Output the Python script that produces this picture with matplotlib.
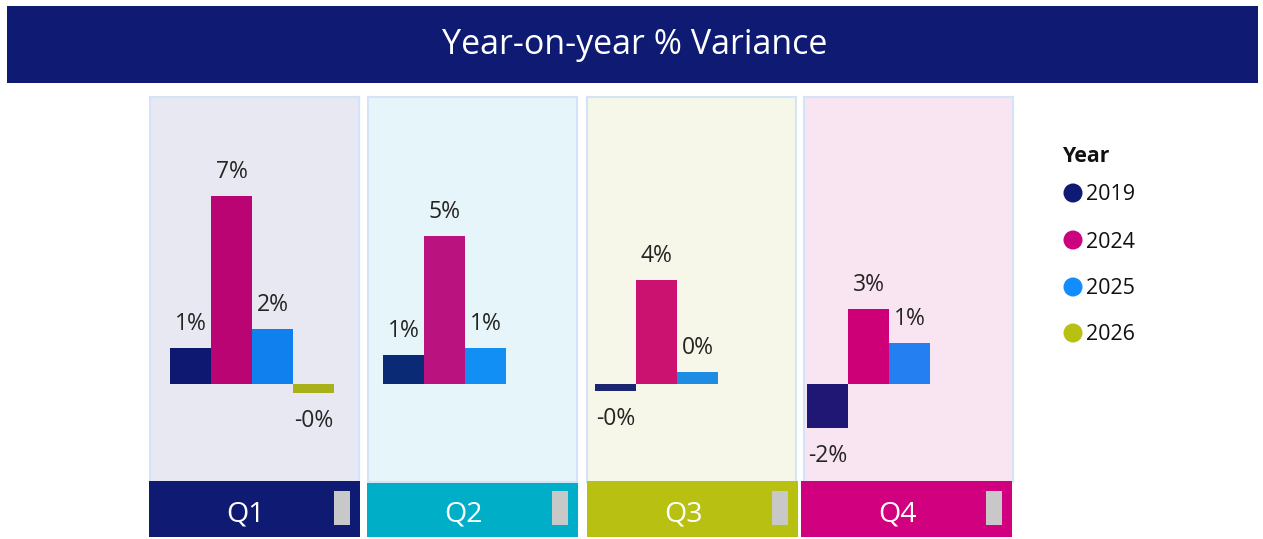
import matplotlib
matplotlib.use("Agg")
import matplotlib.pyplot as plt
from matplotlib.patches import Rectangle
import numpy as np

plt.rcParams['font.family'] = ['Open Sans', 'DejaVu Sans']

# ---------------- data ----------------
quarters = ["Q1", "Q2", "Q3", "Q4"]
years = ["2019", "2024", "2025", "2026"]
q1_values = [1.30, 6.71, 1.96, -0.31]
q2_values = [1.04, 5.29, 1.30]
q3_values = [-0.24, 3.71, 0.43]
q4_values = [-1.56, 2.68, 1.48]
title = "Year-on-year % Variance"
legend_title = "Year"

# ---------------- styles ----------------
W, H = 1263, 539
DPI = 100
legend_colors = ["#0E1A73", "#CC037F", "#118DFF", "#B8C012"]
bar_colors = [
    ["#0E1870", "#BB0473", "#1080EE", "#A8B01A"],
    ["#0B2A76", "#BA1380", "#118FF5"],
    ["#1C2670", "#CB1270", "#1F8CE4"],
    ["#201674", "#CD0077", "#2480F0"],
]
panel_bg = ["#E8E8F2", "#E6F5FA", "#F6F7E8", "#F9E5F2"]
band_colors = ["#0F1A73", "#00AEC7", "#B8C012", "#D0007E"]
panel_left = [150, 368, 587, 804]
panel_width = 209
panel_top, panel_bottom = 97, 482
zero_px = 384
px_per_pct = 28.0
bar_px = 41
bar_offsets = [20, 15, 8, 3]
band_spans = [(149, 360, 481), (367, 578, 483), (587, 798, 481), (801, 1012, 481)]
label_color = "#252423"

fig = plt.figure(figsize=(W / DPI, H / DPI), dpi=DPI)
fig.patch.set_facecolor("white")

def px_rect(x0, y0, x1, y1):
    return [x0 / W, 1 - y1 / H, (x1 - x0) / W, (y1 - y0) / H]

values = [q1_values, q2_values, q3_values, q4_values]
ymax = (zero_px - panel_top) / px_per_pct
ymin = -(panel_bottom - zero_px) / px_per_pct
xspan = panel_width / bar_px

for i, q in enumerate(quarters):
    ax = fig.add_axes(px_rect(panel_left[i], panel_top, panel_left[i] + panel_width, panel_bottom))
    ax.set_facecolor(panel_bg[i])
    vals = values[i]
    xs = np.arange(len(vals))
    ax.bar(xs, vals, width=1.0, color=bar_colors[i][:len(vals)], linewidth=0)
    for x, v in zip(xs, vals):
        off = 17.3 if v >= 0 else -20.1
        ax.annotate(f"{v:.0f}%", (x, v), xytext=(0, off), textcoords="offset points",
                    ha="center", va="center", fontsize=16.5, color=label_color)
    left = -0.5 - bar_offsets[i] / bar_px
    ax.set_xlim(left, left + xspan)
    ax.set_ylim(ymin, ymax)
    ax.set_xticks([])
    ax.set_yticks([])
    for s in ax.spines.values():
        s.set_color("#D3E3F8")
        s.set_linewidth(1.5)

# overlay axes in pixel coordinates
ov = fig.add_axes([0, 0, 1, 1], zorder=5)
ov.set_xlim(0, W)
ov.set_ylim(H, 0)
ov.axis("off")
ov.patch.set_alpha(0)

# title band
ov.add_patch(Rectangle((7, 6), 1251, 77, color="#0F1B73", linewidth=0))
ov.text(635, 45, title, color="white", fontsize=24.5, ha="center", va="center")

# quarter bands
for i, q in enumerate(quarters):
    x0, x1, y0 = band_spans[i]
    ov.add_patch(Rectangle((x0, y0), x1 - x0, 537 - y0, color=band_colors[i], linewidth=0))
    ov.add_patch(Rectangle((x1 - 26, 491), 16, 34, color="#C8C8C8", linewidth=0))
    ov.text((x0 + x1) / 2 - 9, 515, q, color="white", fontsize=20.5, ha="center", va="center")

# legend
ov.text(1062, 157, legend_title, fontsize=15.3, fontweight="bold", ha="left", va="center", color="#111111")
leg_y = [193, 240, 287, 333]
ov.scatter([1073] * len(years), leg_y, s=19 ** 2 * 0.52, c=legend_colors, linewidths=0)
for y, yr in zip(leg_y, years):
    ov.text(1086, y + 2, yr, fontsize=15.5, ha="left", va="center", color="#111111")

fig.savefig("out.png", dpi=DPI)
